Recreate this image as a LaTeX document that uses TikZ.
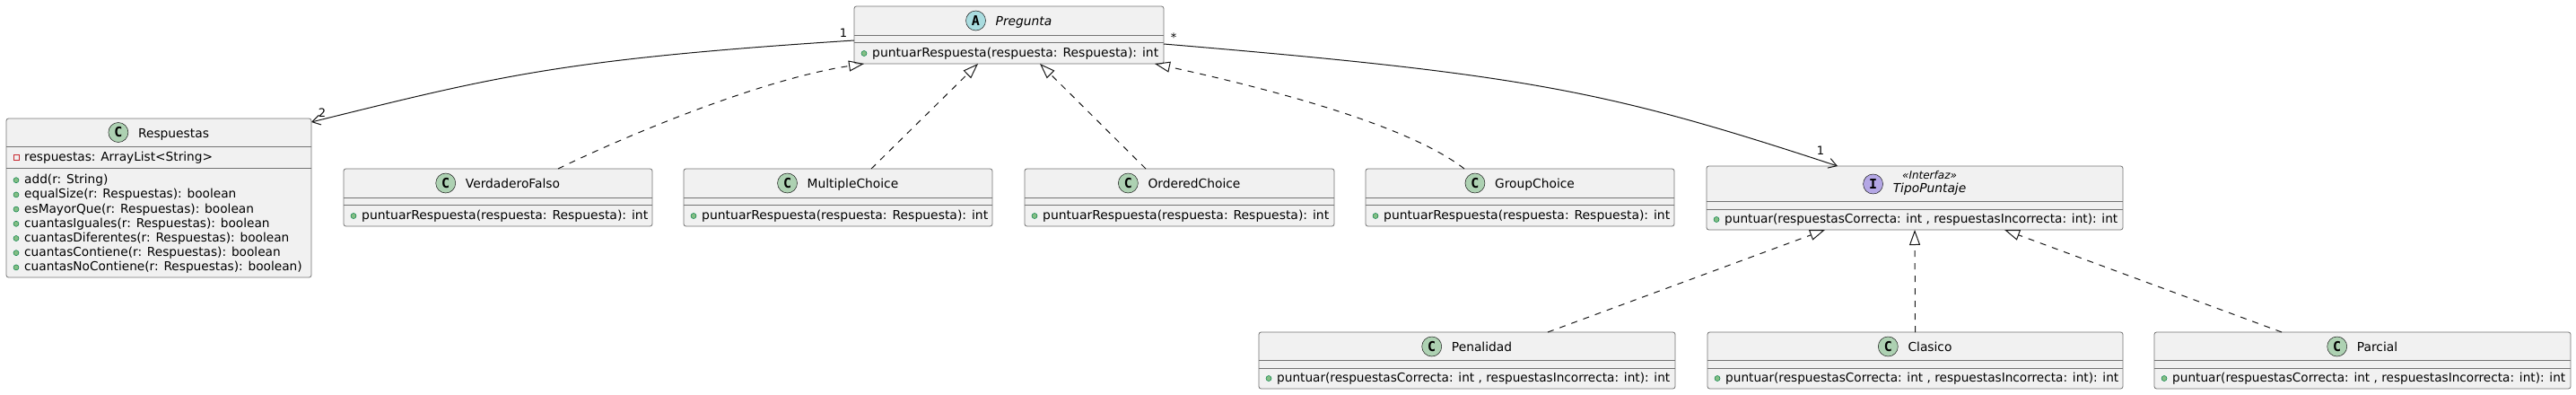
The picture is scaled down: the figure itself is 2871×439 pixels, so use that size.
\documentclass[tikz,border=0pt]{standalone}
\usepackage{fontspec}
\usepackage{graphicx}
\setmainfont{DejaVu Sans}
\newfontfamily\iconfamily{DejaVu Sans Mono}
\usetikzlibrary{arrows.meta}
\definecolor{umlline}{HTML}{181818}
\definecolor{umlborder}{HTML}{737373}
\definecolor{umlbg}{HTML}{F1F1F1}
\definecolor{iconC}{HTML}{ADD1B2}
\definecolor{iconA}{HTML}{A9DCDF}
\definecolor{iconI}{HTML}{B4A7E5}
\definecolor{pubfill}{HTML}{84BE84}
\definecolor{pubdraw}{HTML}{038048}
\definecolor{privdraw}{HTML}{C82930}
\tikzset{
  classbox/.style={draw=umlborder, fill=umlbg, line width=0.8pt, rounded corners=2.5pt, inner sep=0pt, outer sep=0pt},
  sepline/.style={draw=umlborder, line width=0.8pt},
  titletext/.style={inner sep=0pt, anchor=center, text height=11pt, text depth=0pt, font=\fontsize{13.8}{16}\selectfont},
  stereotext/.style={inner sep=0pt, anchor=base, font=\fontsize{12}{14}\selectfont\itshape},
  membtext/.style={inner sep=0pt, anchor=west, text height=8pt, text depth=0pt, font=\fontsize{13.7}{16}\selectfont},
  iconcirc/.style={circle, draw=umlline, line width=0.5pt, minimum size=22pt, inner sep=0pt, font=\iconfamily\bfseries\fontsize{15}{15}\selectfont},
  multlabel/.style={inner sep=0pt, font=\fontsize{13}{13}\selectfont},
  assoc/.style={draw=umlline, line width=1pt, -{Straight Barb[length=9pt,width=11pt]}},
  realize/.style={draw=umlline, line width=1pt, dash pattern=on 7pt off 7pt, -{Triangle[open, length=17pt, width=12pt]}},
}
\newcommand\RespText{\resizebox{319pt}{\height}{puntuarRespuesta(respuesta: Respuesta): int}}
\newcommand\PuntText{\resizebox{438pt}{\height}{puntuar(respuestasCorrecta: int , respuestasIncorrecta: int): int}}
% box: id, x1, y1, x2, y2
\newcommand\Cbox[5]{\node[classbox, minimum width={#4pt-#2pt}, minimum height={#5pt-#3pt}] (#1) at ({(#2+#4)/2},{(#3+#5)/2}) {};}
% separator: x1, x2, y
\newcommand\Sep[3]{\draw[sepline] (#1,#3) -- (#2,#3);}
% header: id, cx, icon y, letter, colour, title
\newcommand\Head[6]{\node[titletext] (#1t) at (#2+16.5,#3) {#6};
  \node[iconcirc, fill=#5] (#1i) at ([xshift=-22pt]#1t.west) {#4};}
% public method: id, box left, y, text
\newcommand\PubM[4]{\filldraw[fill=pubfill, draw=pubdraw, line width=0.5pt] (#2+11,#3) circle (3pt);
  \node[membtext] (#1) at (#2+20,#3) {#4};}
% private attribute: id, box left, y, text
\newcommand\PrivA[4]{\draw[privdraw, line width=0.8pt] (#2+8,#3-3) rectangle (#2+14,#3+3);
  \node[membtext] (#1) at (#2+20,#3) {#4};}
\begin{document}
\begin{tikzpicture}[x=1pt,y=-1pt]
\fill[white] (0,0) rectangle (2871,439);
\useasboundingbox (0,0) rectangle (2871,439);

% Pregunta
\Cbox{preg}{952}{7}{1297}{71}
\Sep{952}{1297}{39}\Sep{952}{1297}{47}
\Head{preg}{1124.5}{23}{A}{iconA}{\itshape Pregunta}
\PubM{pregm}{952}{59.5}{\RespText}

% Respuestas
\Cbox{resp}{7}{132}{347}{309}
\Sep{7}{347}{163}\Sep{7}{347}{187}
\Head{resp}{177}{147.5}{C}{iconC}{Respuestas}
\PrivA{respa}{7}{175.5}{respuestas: ArrayList<String>}
\PubM{respm1}{7}{200.7}{add(r: String)}
\PubM{respm2}{7}{216.9}{equalSize(r: Respuestas): boolean}
\PubM{respm3}{7}{233.1}{esMayorQue(r: Respuestas): boolean}
\PubM{respm4}{7}{249.3}{cuantasIguales(r: Respuestas): boolean}
\PubM{respm5}{7}{265.5}{cuantasDiferentes(r: Respuestas): boolean}
\PubM{respm6}{7}{281.7}{cuantasContiene(r: Respuestas): boolean}
\PubM{respm7}{7}{297.9}{cuantasNoContiene(r: Respuestas): boolean)}

% VerdaderoFalso
\Cbox{vf}{383}{188}{727}{252}
\Sep{383}{727}{220}\Sep{383}{727}{228}
\Head{vf}{555}{204}{C}{iconC}{VerdaderoFalso}
\PubM{vfm}{383}{240.5}{\RespText}

% MultipleChoice
\Cbox{mc}{762}{188}{1106}{252}
\Sep{762}{1106}{220}\Sep{762}{1106}{228}
\Head{mc}{934}{204}{C}{iconC}{MultipleChoice}
\PubM{mcm}{762}{240.5}{\RespText}

% OrderedChoice
\Cbox{oc}{1142}{188}{1487}{252}
\Sep{1142}{1487}{220}\Sep{1142}{1487}{228}
\Head{oc}{1314.5}{204}{C}{iconC}{OrderedChoice}
\PubM{ocm}{1142}{240.5}{\RespText}

% GroupChoice
\Cbox{gc}{1522}{188}{1866}{252}
\Sep{1522}{1866}{220}\Sep{1522}{1866}{228}
\Head{gc}{1694}{204}{C}{iconC}{GroupChoice}
\PubM{gcm}{1522}{240.5}{\RespText}

% TipoPuntaje
\Cbox{tipo}{1902}{185}{2366}{256}
\Sep{1902}{2366}{224}\Sep{1902}{2366}{233}
\node[titletext] (tipot) at (2150.5,209) {\itshape TipoPuntaje};
\node[stereotext] (tipos) at (2150.5,199.5) {«Interfaz»};
\node[iconcirc, fill=iconI] (tipoi) at ([xshift=-22pt,yshift=4pt]tipot.west) {I};
\PubM{tipom}{1902}{244.5}{\PuntText}

% Penalidad
\Cbox{pen}{1403}{370}{1867}{433}
\Sep{1403}{1867}{401}\Sep{1403}{1867}{410}
\Head{pen}{1635}{386}{C}{iconC}{Penalidad}
\PubM{penm}{1403}{421.5}{\PuntText}

% Clasico
\Cbox{clas}{1903}{370}{2366}{433}
\Sep{1903}{2366}{401}\Sep{1903}{2366}{410}
\Head{clas}{2134.5}{386}{C}{iconC}{Clasico}
\PubM{clasm}{1903}{421.5}{\PuntText}

% Parcial
\Cbox{parc}{2401}{370}{2865}{433}
\Sep{2401}{2865}{401}\Sep{2401}{2865}{410}
\Head{parc}{2633}{386}{C}{iconC}{Parcial}
\PubM{parcm}{2401}{421.5}{\PuntText}

% associations
\draw[assoc] ([yshift=-6pt]preg.west) .. controls (625,66) and (554,85) .. ([yshift=-4pt]resp.north east);
\node[multlabel] (l1) at (940,37) {1};
\node[multlabel] (l2) at (359,126) {2};
\draw[assoc] ([yshift=-10pt]preg.east) .. controls (1703,83) and (1792,101) .. ([xshift=-86pt]tipo.north);
\node[multlabel] (l3) at (1308,42) {*};
\node[multlabel] (l4) at (2029,168) {1};

% realizations of Pregunta
\draw[realize] ([xshift=67pt]vf.north) .. controls (700,150) and (850,88) .. ([xshift=-161.5pt]preg.south);
\draw[realize] ([xshift=37pt]mc.north) -- ([xshift=-34.5pt]preg.south);
\draw[realize] ([xshift=-37.5pt]oc.north) -- ([xshift=34.5pt]preg.south);
\draw[realize] ([xshift=-62pt]gc.north) .. controls (1570,140) and (1420,100) .. ([xshift=162.5pt]preg.south);

% realizations of TipoPuntaje
\draw[realize] ([xshift=90pt]pen.north) -- ([xshift=-100pt]tipo.south);
\draw[realize] (clas.north) -- (tipo.south);
\draw[realize] ([xshift=-90pt]parc.north) -- ([xshift=100pt]tipo.south);
\end{tikzpicture}
\end{document}
